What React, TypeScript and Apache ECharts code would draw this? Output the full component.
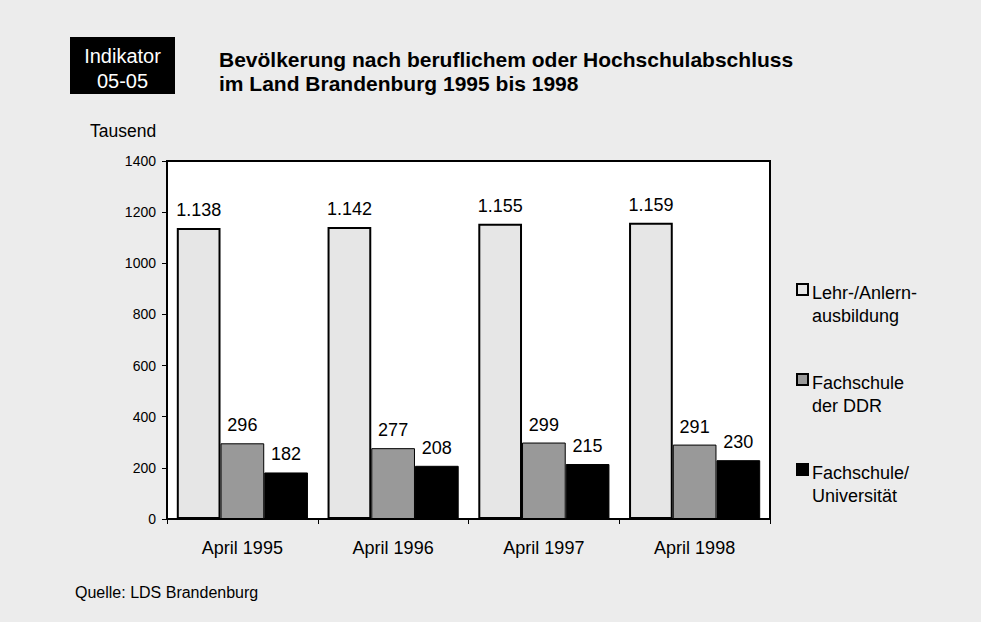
import React, { useEffect, useRef } from "react";
import * as echarts from "echarts";

const categories = ["April 1995", "April 1996", "April 1997", "April 1998"];
const lehrAnlern = [1138, 1142, 1155, 1159];
const fachschuleDDR = [296, 277, 299, 291];
const fachschuleUni = [182, 208, 215, 230];
const seriesNames = ["Lehr-/Anlern-\nausbildung", "Fachschule\nder DDR", "Fachschule/\nUniversität"];
const yTicks = { min: 0, max: 1400, interval: 200 };

const FONT = "'Liberation Sans', Arial, sans-serif";

const fmt = (v: number) => {
  const s = String(Math.round(v));
  return s.replace(/\B(?=(\d{3})+(?!\d))/g, ".");
};

export default function App() {
  const ref = useRef<HTMLDivElement>(null);
  useEffect(() => {
    document.body.style.margin = "0";
    if (!ref.current) return;
    const chart = echarts.init(ref.current, undefined, { renderer: "svg" });
    const label = {
      show: true,
      position: "top" as const,
      distance: 9,
      fontFamily: FONT,
      fontSize: 18,
      color: "#000",
      formatter: (p: any) => fmt(p.value),
    };
    const colors = ["#e6e6e6", "#999999", "#000000"];
    const legendY = [290, 380, 470];
    const legendGraphics: any[] = [];
    seriesNames.forEach((n, i) => {
      legendGraphics.push({
        type: "rect",
        shape: { x: 797, y: legendY[i] - 6, width: 11, height: 11 },
        style: { fill: colors[i], stroke: "#000", lineWidth: 2 },
      });
      legendGraphics.push({
        type: "text",
        x: 812,
        y: legendY[i] - 9,
        style: {
          text: n,
          fontFamily: FONT,
          fontSize: 18,
          lineHeight: 23,
          fill: "#000",
          verticalAlign: "top",
        },
      });
    });
    chart.setOption({
      animation: false,
      backgroundColor: "#ececec",
      textStyle: { fontFamily: FONT },
      grid: {
        left: 167,
        top: 161,
        right: 211,
        bottom: 103,
        show: true,
        backgroundColor: "#ffffff",
        borderColor: "#000",
        borderWidth: 2,
      },
      xAxis: {
        type: "category",
        data: categories,
        axisLine: { lineStyle: { color: "#000", width: 1.5 } },
        axisTick: { show: true, length: 5, inside: false, lineStyle: { color: "#000" } },
        axisLabel: { fontSize: 18, color: "#000", margin: 20, fontFamily: FONT },
      },
      yAxis: {
        type: "value",
        min: yTicks.min,
        max: yTicks.max,
        interval: yTicks.interval,
        splitLine: { show: false },
        axisLine: { show: true, lineStyle: { color: "#000", width: 1.5 } },
        axisTick: { show: true, length: 5, lineStyle: { color: "#000" } },
        axisLabel: {
          fontSize: 14,
          color: "#000",
          margin: 11,
          fontFamily: FONT,
          formatter: (v: number) => String(v),
        },
      },
      series: [
        {
          type: "bar",
          name: seriesNames[0],
          data: lehrAnlern,
          barGap: "0%",
          barCategoryGap: "13%",
          itemStyle: { color: colors[0], borderColor: "#000", borderWidth: 2 },
          label,
        },
        {
          type: "bar",
          name: seriesNames[1],
          data: fachschuleDDR,
          itemStyle: { color: colors[1], borderColor: "#000", borderWidth: 1 },
          label,
        },
        {
          type: "bar",
          name: seriesNames[2],
          data: fachschuleUni,
          itemStyle: { color: colors[2], borderColor: "#000", borderWidth: 1 },
          label,
        },
      ],
      graphic: [
        {
          type: "rect",
          shape: { x: 70, y: 37, width: 105, height: 57 },
          style: { fill: "#000" },
        },
        {
          type: "text",
          x: 122.5,
          y: 43,
          style: {
            text: "Indikator\n05-05",
            fontFamily: FONT,
            fontSize: 20,
            lineHeight: 25,
            fill: "#fff",
            align: "center",
            verticalAlign: "top",
          },
        },
        {
          type: "text",
          x: 219,
          y: 47,
          style: {
            text: "Bevölkerung nach beruflichem oder Hochschulabschluss\nim Land Brandenburg 1995 bis 1998",
            fontFamily: FONT,
            fontSize: 21,
            fontWeight: "bold",
            lineHeight: 24,
            fill: "#000",
            verticalAlign: "top",
          },
        },
        {
          type: "text",
          x: 90,
          y: 122,
          style: { text: "Tausend", fontFamily: FONT, fontSize: 17.5, fill: "#000", verticalAlign: "top" },
        },
        {
          type: "text",
          x: 75,
          y: 584,
          style: { text: "Quelle: LDS Brandenburg", fontFamily: FONT, fontSize: 16, fill: "#000", verticalAlign: "top" },
        },
        ...legendGraphics,
      ],
    });
    return () => chart.dispose();
  }, []);
  return <div ref={ref} style={{ width: 981, height: 622 }} />;
}
